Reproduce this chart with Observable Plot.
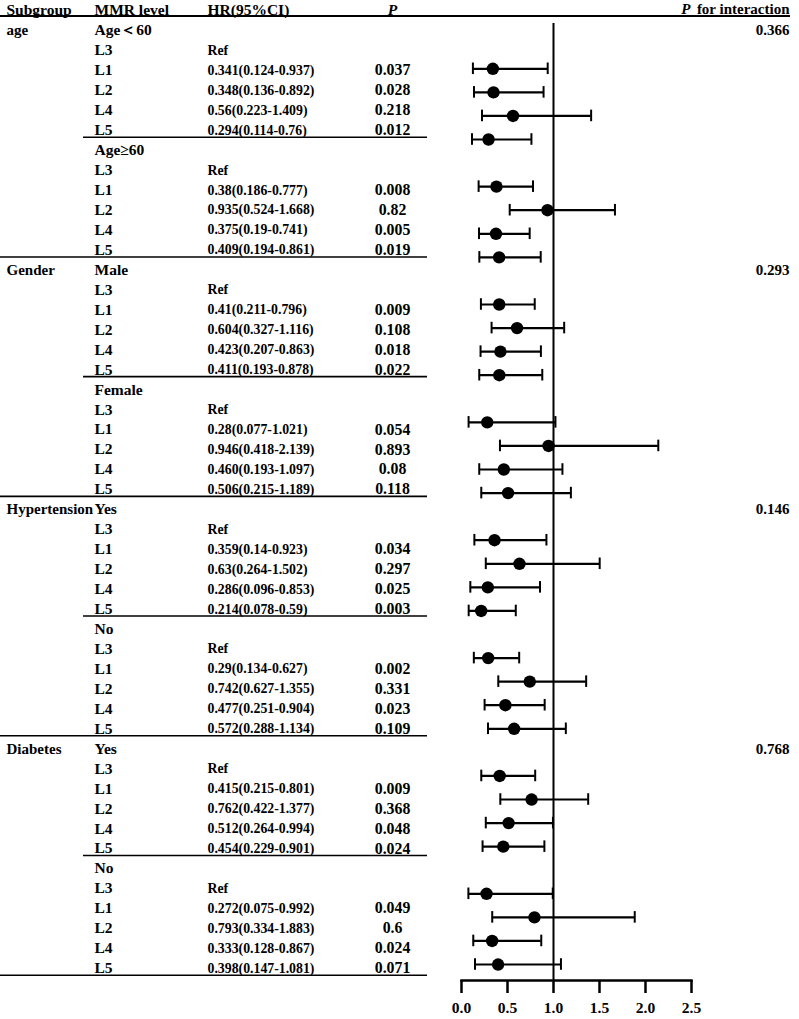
<!DOCTYPE html>
<html><head><meta charset="utf-8">
<script src="https://cdn.jsdelivr.net/npm/d3@7"></script>
<script src="https://cdn.jsdelivr.net/npm/@observablehq/plot@0.6"></script>
<style>
html,body{margin:0;padding:0;background:#fff;}
#wrap{position:relative;width:799px;height:1019px;overflow:hidden;}
#wrap svg{position:absolute;left:0;top:0;background:transparent;}
</style></head><body><div id="wrap"></div>
<script>
// ---------- data ----------
const groups = ["age", "Gender", "Hypertension", "Diabetes"];
const pInteraction = ["0.366", "0.293", "0.146", "0.768"];
const subgroups = ["Age\uFF1C60", "Age\u226560", "Male", "Female", "Yes", "No", "Yes", "No"];
const refLevel = "L3";
const levels = ["L1", "L2", "L4", "L5"];
const hrText = [
  "0.341(0.124-0.937)", "0.348(0.136-0.892)", "0.56(0.223-1.409)", "0.294(0.114-0.76)",
  "0.38(0.186-0.777)", "0.935(0.524-1.668)", "0.375(0.19-0.741)", "0.409(0.194-0.861)",
  "0.41(0.211-0.796)", "0.604(0.327-1.116)", "0.423(0.207-0.863)", "0.411(0.193-0.878)",
  "0.28(0.077-1.021)", "0.946(0.418-2.139)", "0.460(0.193-1.097)", "0.506(0.215-1.189)",
  "0.359(0.14-0.923)", "0.63(0.264-1.502)", "0.286(0.096-0.853)", "0.214(0.078-0.59)",
  "0.29(0.134-0.627)", "0.742(0.627-1.355)", "0.477(0.251-0.904)", "0.572(0.288-1.134)",
  "0.415(0.215-0.801)", "0.762(0.422-1.377)", "0.512(0.264-0.994)", "0.454(0.229-0.901)",
  "0.272(0.075-0.992)", "0.793(0.334-1.883)", "0.333(0.128-0.867)", "0.398(0.147-1.081)"
];
const pText = [
  "0.037", "0.028", "0.218", "0.012",
  "0.008", "0.82", "0.005", "0.019",
  "0.009", "0.108", "0.018", "0.022",
  "0.054", "0.893", "0.08", "0.118",
  "0.034", "0.297", "0.025", "0.003",
  "0.002", "0.331", "0.023", "0.109",
  "0.009", "0.368", "0.048", "0.024",
  "0.049", "0.6", "0.024", "0.071"
];
// plotted estimates and CI bounds (as drawn in the picture)
const est = [
  0.341, 0.348, 0.56, 0.294,
  0.38, 0.935, 0.375, 0.409,
  0.41, 0.604, 0.423, 0.411,
  0.28, 0.946, 0.46, 0.506,
  0.359, 0.63, 0.286, 0.214,
  0.29, 0.742, 0.477, 0.572,
  0.415, 0.762, 0.512, 0.454,
  0.272, 0.793, 0.333, 0.398
];
const lower = [
  0.124, 0.136, 0.223, 0.114,
  0.186, 0.524, 0.19, 0.194,
  0.211, 0.327, 0.207, 0.193,
  0.077, 0.418, 0.193, 0.215,
  0.14, 0.264, 0.096, 0.078,
  0.134, 0.40, 0.251, 0.288,
  0.215, 0.422, 0.264, 0.229,
  0.075, 0.334, 0.128, 0.147
];
const upper = [
  0.937, 0.892, 1.409, 0.76,
  0.777, 1.668, 0.741, 0.861,
  0.796, 1.116, 0.863, 0.878,
  1.021, 2.139, 1.097, 1.189,
  0.923, 1.502, 0.853, 0.59,
  0.627, 1.355, 0.904, 1.134,
  0.801, 1.377, 0.994, 0.901,
  0.992, 1.883, 0.867, 1.081
];
const xTicks = [0, 0.5, 1, 1.5, 2, 2.5];
const headers = {group: "Subgroup", level: "MMR level", hr: "HR(95%CI)", p: "P", pintP: "P", pint: "for interaction"};

// ---------- layout (pixels) ----------
const W = 799, H = 1019;
const FONT = "'Liberation Serif', 'Times New Roman', Times, serif";
const col = {group: 6, level: 94, hr: 207, p: 392, pint: 789, pintP: 690};
const size = {group: 15, level: 15.5, hr: 13.8, p: 15.8, pint: 15, pintP: 15};

// ---------- table rows ----------
const rows = [];
const seps = [];
subgroups.forEach((s, si) => {
  const base = si * 6;
  rows.push({row: base, col: "level", text: s});
  if (si % 2 === 0) {
    rows.push({row: base, col: "group", text: groups[si / 2]});
    rows.push({row: base, col: "pint", text: pInteraction[si / 2]});
  }
  rows.push({row: base + 1, col: "level", text: refLevel});
  rows.push({row: base + 1, col: "hr", text: "Ref"});
  levels.forEach((l, li) => {
    const k = si * 4 + li;
    rows.push({row: base + 2 + li, col: "level", text: l});
    rows.push({row: base + 2 + li, col: "hr", text: hrText[k]});
    rows.push({row: base + 2 + li, col: "p", text: pText[k]});
  });
  seps.push({row: base + 5, full: si % 2 === 1});
});
const headerRow = -1.05;
const headerRule = -0.73;
const headerData = Object.keys(headers).map(k => ({row: headerRow, col: k, text: headers[k]}));

const anchorOf = c => c === "p" ? "middle" : (c === "pint" || c === "pintP") ? "end" : "start";
const textCommon = {fontFamily: FONT, fontWeight: "bold", fill: "black"};

function colText(data, c, extra = {}) {
  return Plot.text(data.filter(d => d.col === c), {
    x: () => col[c], y: "row", text: "text",
    textAnchor: anchorOf(c), fontSize: size[c], ...textCommon, ...extra
  });
}

const table = Plot.plot({
  width: W, height: H, margin: 0,
  style: {fontFamily: FONT, background: "transparent"},
  x: {type: "identity", axis: null},
  y: {domain: [0, 47], range: [30, 967.7], axis: null},
  marks: [
    colText(rows, "group"),
    colText(rows, "level"),
    colText(rows, "hr"),
    colText(rows, "p"),
    colText(rows, "pint"),
    colText(headerData, "group", {fontSize: 15.5}),
    colText(headerData, "level"),
    colText(headerData, "hr", {fontSize: 15.5}),
    colText(headerData, "p", {fontStyle: "italic", fontSize: 15.5}),
    colText(headerData, "pintP", {fontStyle: "italic"}),
    colText(headerData, "pint"),
    Plot.ruleY([headerRule], {x1: 0, x2: 790, stroke: "black", strokeWidth: 2}),
    Plot.ruleY(seps, {y: d => d.row + 0.35, x1: d => d.full ? 0 : 83, x2: 427, stroke: "black", strokeWidth: 1.6})
  ]
});

// ---------- forest plot ----------
const nSlots = subgroups.length * 5 - 1;
const slots = d3.range(nSlots);
const forest = est.map((e, k) => ({slot: Math.floor(k / 4) * 5 + (k % 4), est: e, lo: lower[k], hi: upper[k]}));

const fp = Plot.plot({
  width: W, height: H,
  marginLeft: 461, marginRight: 108, marginTop: 23, marginBottom: 39,
  style: {fontFamily: FONT, background: "transparent"},
  x: {domain: [0, 2.5]},
  y: {type: "band", domain: slots, range: [56.5, 975.8], padding: 0, round: false, axis: null},
  marks: [
    Plot.frame({anchor: "bottom", stroke: "black", strokeWidth: 2.5}),
    Plot.ruleX([1], {stroke: "black", strokeWidth: 2}),
    Plot.ruleY(forest, {y: "slot", x1: "lo", x2: "hi", stroke: "black", strokeWidth: 2.2}),
    Plot.tickX(forest, {x: "lo", y: "slot", stroke: "black", strokeWidth: 2, insetTop: 6, insetBottom: 6}),
    Plot.tickX(forest, {x: "hi", y: "slot", stroke: "black", strokeWidth: 2, insetTop: 6, insetBottom: 6}),
    Plot.dot(forest, {x: "est", y: "slot", r: 6.2, fill: "black"}),
    Plot.axisX({ticks: xTicks, tickFormat: d3.format(".1f"), tickSize: 13, tickPadding: 8,
      stroke: "black", strokeWidth: 2.5, fill: "black", fontSize: 15.5, fontWeight: "bold", fontFamily: FONT, label: null})
  ]
});

const wrap = document.getElementById("wrap");
wrap.appendChild(fp);
wrap.appendChild(table);
</script>
</body></html>
